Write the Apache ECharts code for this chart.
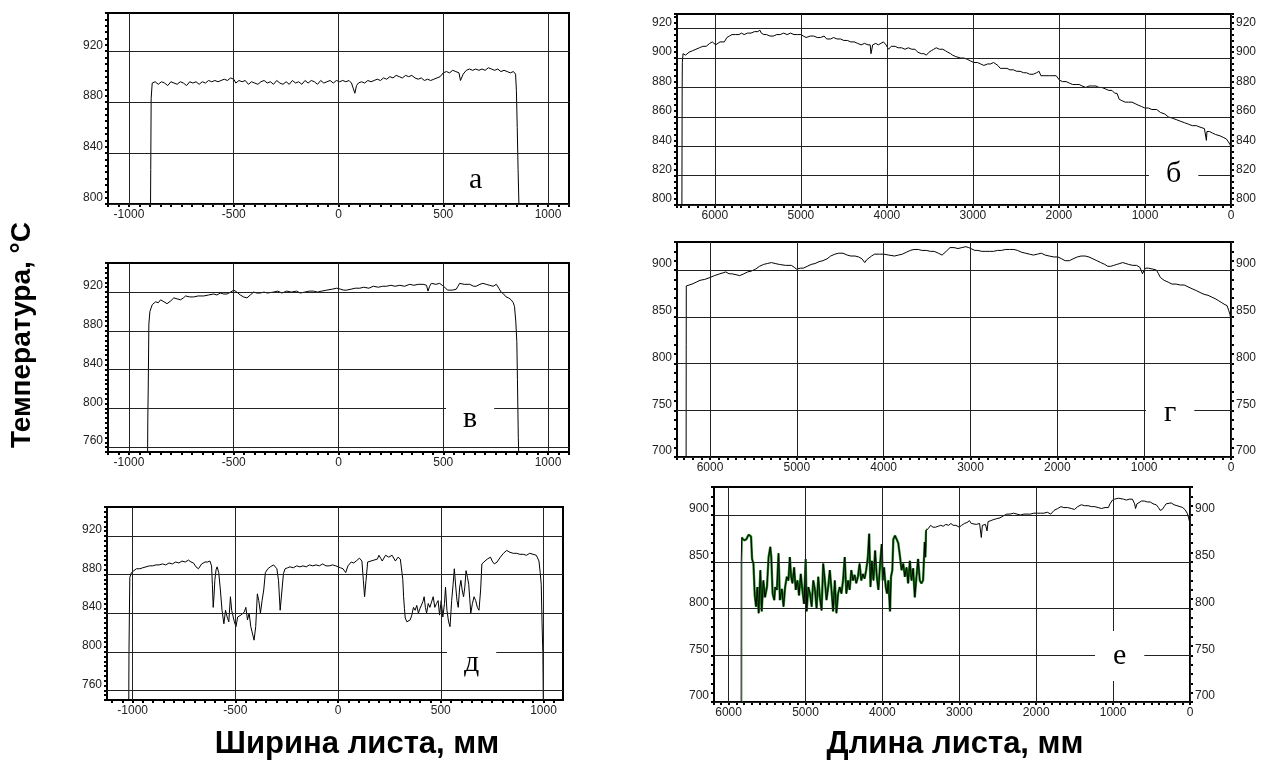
<!DOCTYPE html>
<html><head><meta charset="utf-8">
<script src="https://cdn.jsdelivr.net/npm/echarts@6/dist/echarts.min.js"></script>
<style>html,body{margin:0;padding:0;background:#fff}#c{width:1263px;height:762px}</style>
</head><body><div id="c"></div>
<script>
// ---------- data ----------
const widthTicks = [-1000, -500, 0, 500, 1000];
const lengthTicks = [6000, 5000, 4000, 3000, 2000, 1000, 0];
const tempTicksA = [800, 840, 880, 920];
const tempTicksB = [800, 820, 840, 860, 880, 900, 920];
const tempTicksV = [760, 800, 840, 880, 920];
const tempTicksG = [700, 750, 800, 850, 900];
const tempTicksD = [760, 800, 840, 880, 920];
const tempTicksE = [700, 750, 800, 850, 900];
const letters = ['а', 'б', 'в', 'г', 'д', 'е'];
const yTitle = 'Температура, °C';
const xTitleLeft = 'Ширина листа, мм';
const xTitleRight = 'Длина листа, мм';
const noisyRangeE = [3425, 5832];

const curveA = [[-897,800],[-896,827],[-894,883],[-889,895],[-875,896],[-860,894],[-845,896],[-830,895],[-815,893],[-800,896],[-785,895],[-770,894],[-755,896],[-740,895],[-725,893],[-710,896],[-695,895],[-680,896],[-665,894],[-650,896],[-635,895],[-620,897],[-605,896],[-590,897],[-575,896],[-560,897],[-545,898],[-530,897],[-515,899],[-500,898],[-490,895],[-475,897],[-460,896],[-445,897],[-430,894],[-415,896],[-400,895],[-385,894],[-370,896],[-355,897],[-340,895],[-325,896],[-310,894],[-295,897],[-280,895],[-265,894],[-250,896],[-235,894],[-220,897],[-205,895],[-190,896],[-175,894],[-160,897],[-145,895],[-130,897],[-115,896],[-100,894],[-85,897],[-70,895],[-55,896],[-40,897],[-25,895],[-10,897],[5,896],[20,897],[35,896],[50,897],[62,895],[70,891],[78,887],[86,893],[95,895],[110,896],[125,895],[140,897],[155,896],[170,897],[185,898],[200,897],[215,899],[230,898],[245,900],[260,899],[275,901],[290,900],[305,899],[320,901],[335,900],[350,901],[365,899],[380,898],[395,899],[410,897],[425,898],[440,897],[455,898],[470,899],[485,900],[500,903],[515,904],[530,903],[545,905],[560,904],[575,903],[582,897],[588,896],[595,902],[610,905],[625,906],[640,905],[655,906],[670,905],[685,906],[700,905],[715,907],[730,906],[745,905],[760,906],[775,904],[790,905],[805,904],[820,903],[835,904],[845,902],[849,889],[853,860],[857,827],[861,800]];

const curveB = [[6383,800],[6380,880],[6378,897],[6370,903],[6340,902],[6300,904],[6260,905],[6220,906],[6180,907],[6140,908],[6100,908],[6060,910],[6030,911],[6010,912],[5990,909],[5970,910],[5940,911],[5920,910],[5890,911],[5860,914],[5830,915],[5800,916],[5760,916],[5720,916],[5690,917],[5660,916],[5620,917],[5580,917],[5540,918],[5500,918],[5476,919],[5460,917],[5430,916],[5400,916],[5360,915],[5320,915],[5280,916],[5240,916],[5200,917],[5160,916],[5120,917],[5080,916],[5040,916],[5000,916],[4970,915],[4940,914],[4920,913],[4890,915],[4850,915],[4810,914],[4770,914],[4730,915],[4700,913],[4654,913],[4620,914],[4580,913],[4540,913],[4500,912],[4460,912],[4420,911],[4380,911],[4340,910],[4300,909],[4260,910],[4220,909],[4194,909],[4185,903],[4175,904],[4165,909],[4130,910],[4100,909],[4078,910],[4040,911],[4010,909],[3981,906],[3950,908],[3904,908],[3870,907],[3828,907],[3790,906],[3752,907],[3710,906],[3675,906],[3640,904],[3599,903],[3570,903],[3541,902],[3510,904],[3484,905],[3455,906],[3427,907],[3390,906],[3350,906],[3320,905],[3293,904],[3260,903],[3236,902],[3200,901],[3178,901],[3140,900],[3102,900],[3060,899],[3026,898],[2990,897],[2949,897],[2910,896],[2873,895],[2830,896],[2796,896],[2760,897],[2739,897],[2710,895],[2682,893],[2640,893],[2605,893],[2570,892],[2529,892],[2490,891],[2452,891],[2410,890],[2376,890],[2340,889],[2300,889],[2260,890],[2231,891],[2210,888],[2185,888],[2150,888],[2109,888],[2070,888],[2032,888],[2010,887],[1994,885],[1960,884],[1917,884],[1880,883],[1841,882],[1800,882],[1765,882],[1730,881],[1688,880],[1650,881],[1612,881],[1570,881],[1535,880],[1500,880],[1459,879],[1420,878],[1383,878],[1350,876],[1325,876],[1300,872],[1268,871],[1230,870],[1191,870],[1150,870],[1115,869],[1080,868],[1039,867],[1002,866],[960,866],[920,865],[864,865],[820,863],[771,862],[730,860],[679,859],[630,858],[587,857],[540,856],[494,855],[450,854],[402,854],[360,853],[309,852],[290,851],[286,844],[280,850],[250,850],[217,849],[180,848],[125,847],[90,846],[55,845],[30,843],[10,841],[0,838]];

const curveV = [[-911,755],[-910,790],[-908,820],[-905,887],[-900,900],[-889,907],[-873,910],[-860,909],[-849,912],[-833,910],[-818,908],[-800,911],[-786,914],[-770,913],[-754,912],[-740,914],[-730,916],[-710,915],[-691,915],[-670,916],[-643,916],[-620,917],[-596,918],[-580,917],[-564,919],[-548,918],[-532,918],[-515,920],[-500,922],[-485,920],[-469,917],[-453,915],[-437,914],[-421,917],[-405,920],[-390,919],[-374,919],[-355,920],[-340,919],[-310,920],[-290,921],[-270,919],[-247,921],[-225,920],[-200,921],[-183,919],[-160,920],[-140,921],[-120,921],[-100,920],[-80,921],[-56,922],[-30,923],[-9,924],[10,923],[25,922],[39,922],[60,923],[80,924],[102,924],[120,925],[145,924],[166,926],[190,925],[210,926],[229,926],[250,927],[270,926],[293,927],[315,926],[340,928],[360,927],[380,928],[404,928],[420,927],[427,921],[435,926],[443,929],[465,928],[483,929],[495,927],[507,925],[520,922],[530,922],[545,922],[562,923],[570,926],[578,929],[600,928],[626,928],[645,926],[657,926],[675,928],[689,929],[705,928],[721,927],[738,926],[753,928],[765,924],[776,920],[788,918],[800,915],[812,914],[824,912],[834,909],[840,905],[846,890],[851,869],[854,830],[856,800],[858,770],[860,755]];

const curveG = [[6275,700],[6274,820],[6273,883],[6240,884],[6206,885],[6160,887],[6115,889],[6060,890],[6000,892],[5950,894],[5886,896],[5850,897],[5818,898],[5780,896],[5749,896],[5700,895],[5658,894],[5610,896],[5566,898],[5520,899],[5475,901],[5430,904],[5383,906],[5340,907],[5292,908],[5250,907],[5201,906],[5130,905],[5063,905],[5030,903],[5004,901],[4960,902],[4926,902],[4880,904],[4835,906],[4790,907],[4744,909],[4700,910],[4652,912],[4610,915],[4561,917],[4520,918],[4469,918],[4420,916],[4378,915],[4330,915],[4287,914],[4250,912],[4218,908],[4195,911],[4172,913],[4140,915],[4104,917],[4050,917],[3999,917],[3940,916],[3875,915],[3830,916],[3784,917],[3740,919],[3693,921],[3650,922],[3601,922],[3560,921],[3510,921],[3460,920],[3418,920],[3370,918],[3327,916],[3280,920],[3236,924],[3190,924],[3144,923],[3100,924],[3053,925],[3020,924],[2998,922],[2950,921],[2916,921],[2870,920],[2824,920],[2780,920],[2733,920],[2690,921],[2641,921],[2600,922],[2550,922],[2500,922],[2459,921],[2410,919],[2367,918],[2320,917],[2276,916],[2230,917],[2184,918],[2140,916],[2093,915],[2040,914],[1993,914],[1950,912],[1910,910],[1860,910],[1819,912],[1770,914],[1727,915],[1680,915],[1636,914],[1590,912],[1545,910],[1500,908],[1453,906],[1420,904],[1385,904],[1350,905],[1316,906],[1280,907],[1248,908],[1210,907],[1179,906],[1130,905],[1088,905],[1050,903],[1030,901],[1019,896],[1005,899],[985,902],[951,902],[900,901],[859,900],[835,896],[813,892],[770,889],[722,887],[680,885],[631,885],[585,884],[539,884],[495,882],[448,880],[400,878],[356,876],[310,874],[265,873],[220,871],[174,869],[140,867],[105,865],[70,863],[46,862],[27,857],[10,852],[0,842]];

const curveD = [[-1019,750],[-1018,800],[-1014,877],[-1006,882],[-998,884],[-982,886],[-965,886],[-951,887],[-935,888],[-919,889],[-903,889],[-887,890],[-871,890],[-855,891],[-839,890],[-823,892],[-807,891],[-791,893],[-775,892],[-760,894],[-744,893],[-728,895],[-716,893],[-704,892],[-692,888],[-680,886],[-664,891],[-648,893],[-636,893],[-624,894],[-616,889],[-612,870],[-608,846],[-604,858],[-600,874],[-594,885],[-589,888],[-581,882],[-573,864],[-565,843],[-556,829],[-548,843],[-540,836],[-532,831],[-524,857],[-518,843],[-513,843],[-505,831],[-497,826],[-489,836],[-473,838],[-457,841],[-449,846],[-441,833],[-433,840],[-425,826],[-417,824],[-409,812],[-401,826],[-393,860],[-386,853],[-378,840],[-370,853],[-362,864],[-354,882],[-342,886],[-330,888],[-314,890],[-298,886],[-290,874],[-282,843],[-274,843],[-266,881],[-258,886],[-246,887],[-234,888],[-218,887],[-202,889],[-186,888],[-171,889],[-155,888],[-139,890],[-123,889],[-107,890],[-91,889],[-75,891],[-59,889],[-43,889],[-27,890],[-11,889],[0,888],[12,887],[24,886],[37,882],[48,889],[64,893],[76,892],[88,894],[104,897],[116,894],[123,874],[129,857],[136,874],[144,893],[160,894],[175,895],[191,896],[199,900],[207,897],[215,894],[231,900],[247,898],[263,900],[279,894],[292,898],[303,896],[311,896],[315,875],[319,857],[323,845],[327,835],[335,831],[343,830],[351,833],[359,838],[367,846],[375,843],[383,848],[391,840],[399,845],[407,846],[413,852],[419,857],[425,846],[431,840],[439,850],[447,846],[455,846],[463,857],[471,846],[479,850],[487,853],[494,838],[502,853],[510,836],[518,850],[523,867],[530,843],[538,831],[545,826],[553,853],[560,870],[566,886],[573,867],[579,853],[585,846],[592,867],[598,874],[604,864],[611,857],[617,867],[623,884],[630,877],[636,870],[641,855],[646,840],[654,850],[662,857],[670,853],[678,846],[686,843],[694,864],[700,891],[710,893],[718,891],[726,896],[734,894],[742,898],[750,894],[761,891],[774,893],[782,895],[790,898],[805,902],[821,905],[837,903],[853,902],[869,902],[885,901],[901,901],[917,900],[933,902],[949,901],[965,900],[978,894],[984,882],[989,870],[993,830],[997,798],[999,750]];

const curveE = [[5837,700],[5836,850],[5830,876],[5815,876],[5800,873],[5785,871],[5770,874],[5759,876],[5740,879],[5729,880],[5708,877],[5695,853],[5677,848],[5660,814],[5643,802],[5626,823],[5609,795],[5587,841],[5570,797],[5548,830],[5527,812],[5501,823],[5480,855],[5458,866],[5445,855],[5428,816],[5406,809],[5394,823],[5372,820],[5351,859],[5333,809],[5308,821],[5286,802],[5265,823],[5243,834],[5222,830],[5204,855],[5187,834],[5170,827],[5148,844],[5127,820],[5105,830],[5084,814],[5062,837],[5041,820],[5019,805],[4998,853],[4985,797],[4963,823],[4942,816],[4920,802],[4899,830],[4877,820],[4856,800],[4834,834],[4813,812],[4791,798],[4770,848],[4748,830],[4727,809],[4705,823],[4684,841],[4662,820],[4641,797],[4619,830],[4598,795],[4576,816],[4555,823],[4533,816],[4512,830],[4490,855],[4469,816],[4447,830],[4426,820],[4404,841],[4383,830],[4361,836],[4340,827],[4318,834],[4297,848],[4275,830],[4254,837],[4232,832],[4211,841],[4189,855],[4172,880],[4155,823],[4138,851],[4116,830],[4095,862],[4073,834],[4052,820],[4030,848],[4009,869],[3996,830],[3979,844],[3957,823],[3940,816],[3923,830],[3901,797],[3888,834],[3871,841],[3858,874],[3837,878],[3815,874],[3794,870],[3772,856],[3751,841],[3729,848],[3708,834],[3686,844],[3665,827],[3643,851],[3622,830],[3600,843],[3579,812],[3557,834],[3536,853],[3514,830],[3493,827],[3471,830],[3450,871],[3441,855],[3432,883],[3418,884],[3400,886],[3374,889],[3342,887],[3308,887],[3275,888],[3242,889],[3210,888],[3176,890],[3140,889],[3110,891],[3080,889],[3044,889],[3020,888],[3000,887],[2970,889],[2934,891],[2900,892],[2868,894],[2845,891],[2824,890],[2780,890],[2736,891],[2714,876],[2700,889],[2692,891],[2660,890],[2639,883],[2626,893],[2590,894],[2560,895],[2520,896],[2471,897],[2430,899],[2383,901],[2340,901],[2295,902],[2250,901],[2207,900],[2160,901],[2119,901],[2075,901],[2031,902],[1985,902],[1943,902],[1900,902],[1855,903],[1811,901],[1767,905],[1720,907],[1679,909],[1640,908],[1590,908],[1545,907],[1502,906],[1460,909],[1414,911],[1370,910],[1326,910],[1280,909],[1238,909],[1195,908],[1150,907],[1105,908],[1062,908],[1040,912],[1018,911],[1008,916],[980,917],[956,919],[930,918],[904,917],[865,917],[827,916],[790,917],[749,917],[720,912],[708,907],[690,912],[672,914],[630,915],[594,915],[555,914],[517,914],[480,912],[439,911],[410,908],[388,905],[360,906],[336,909],[310,912],[284,914],[245,913],[207,911],[170,910],[129,909],[95,908],[67,906],[50,904],[36,902],[18,897],[0,891]];

// ---------- layout / styles ----------
const FONT = '"Liberation Sans", Arial, sans-serif';
const LBL = '#222';
const minorD = [];
for (let v = -1100; v <= 1050; v += 50) minorD.push(v);

const panels = [
  {grid:{left:108,top:13,width:461,height:191}, x:{min:-1100,max:1100,step:50,major:widthTicks}, y:{min:800,max:950,step:5,major:tempTicksA}, right:false, data:curveA, letter:letters[0], c:[477,180], pad:[2,4,2,4]},
  {grid:{left:677,top:14,width:554,height:191}, x:{min:0,max:6440,step:100,major:lengthTicks,inverse:true}, y:{min:800,max:930,step:4,major:tempTicksB}, right:true, data:curveB, letter:letters[1], c:[1174,174], pad:[4,17,4,17]},
  {grid:{left:108,top:263,width:461,height:189}, x:{min:-1100,max:1100,step:50,major:widthTicks}, y:{min:755,max:950,step:5,major:tempTicksV}, right:false, data:curveV, letter:letters[2], c:[471,419], pad:[4,17,4,17]},
  {grid:{left:677,top:242,width:554,height:215}, x:{min:0,max:6380,step:100,major:lengthTicks,inverse:true}, y:{min:700,max:930,step:10,major:tempTicksG}, right:true, data:curveG, letter:letters[3], c:[1172,413], pad:[4,18,4,18]},
  {grid:{left:107,top:507,width:456,height:193}, x:{min:-1125,max:1095,custom:minorD,major:widthTicks}, y:{min:750,max:950,step:5,major:tempTicksD}, right:false, data:curveD, letter:letters[4], c:[472,663], pad:[4,17,4,17]},
  {grid:{left:714,top:487,width:476,height:215}, x:{min:0,max:6190,step:100,major:lengthTicks,inverse:true}, y:{min:700,max:930,step:10,major:tempTicksE}, right:true, data:curveE, letter:letters[5], c:[1121,656], pad:[9,18,9,18], green:noisyRangeE}
];

const grids = [], xAxes = [], yAxes = [], series = [], titles = [], visualMaps = [];
const axisLineS = {show:true, onZero:false, lineStyle:{color:'#000', width:2}};
const tickS = {show:true, inside:false, length:3, lineStyle:{color:'#000', width:2}};

panels.forEach((p, i) => {
  grids.push(Object.assign({show:true, borderColor:'#000', borderWidth:2, backgroundColor:'#fff', containLabel:false, outerBoundsMode:'none'}, p.grid));
  const xa = {gridIndex:i, type:'value', min:p.x.min, max:p.x.max, inverse:!!p.x.inverse,
    axisLine:axisLineS, splitLine:{show:false},
    axisLabel:{color:LBL, fontSize:12, fontFamily:FONT, margin:5,
      formatter:(v)=> p.x.major.indexOf(v) >= 0 ? String(v) : ''}};
  if (p.x.custom) {
    xa.axisTick = Object.assign({}, tickS, {customValues:p.x.custom});
    xa.axisLabel.customValues = p.x.major;
  } else {
    xa.interval = p.x.step;
    xa.axisTick = tickS;
  }
  xAxes.push(xa);
  const yIdx = yAxes.length;
  const ya = (pos) => ({gridIndex:i, type:'value', min:p.y.min, max:p.y.max, interval:p.y.step, position:pos,
    axisLine:axisLineS, axisTick:tickS, splitLine:{show:false},
    axisLabel:{color:LBL, fontSize:12, fontFamily:FONT, margin:5, verticalAlign:'bottom',
      formatter:(v)=> p.y.major.indexOf(v) >= 0 ? String(v) : ''}});
  yAxes.push(ya('left'));
  if (p.right) yAxes.push(ya('right'));
  const ml = p.x.major.map(v=>({xAxis:v})).concat(p.y.major.map(v=>({yAxis:v})));
  series.push({type:'line', xAxisIndex:i, yAxisIndex:yIdx, data:[], silent:true, z:1,
    markLine:{silent:true, symbol:['none','none'], label:{show:false}, animation:false,
      lineStyle:{color:'#222', width:1, type:'solid'}, emphasis:{disabled:true}, data:ml}});
  if (p.green) {
    visualMaps.push({type:'piecewise', show:false, dimension:0, seriesIndex:series.length,
      pieces:[{min:p.green[0], max:p.green[1], color:'#1d8a1d'}], outOfRange:{color:'rgba(255,255,255,0)'}});
    series.push({type:'line', xAxisIndex:i, yAxisIndex:yIdx, data:p.data, showSymbol:false, symbol:'none',
      silent:true, z:2, lineStyle:{width:2.4}, animation:false});
  }
  series.push({type:'line', xAxisIndex:i, yAxisIndex:yIdx, data:p.data, showSymbol:false, symbol:'none',
    silent:true, z:3, lineStyle:{color:'#000', width:1}, animation:false});
  const bw = 16 + p.pad[1] + p.pad[3];
  const bh = 32 + p.pad[0] + p.pad[2];
  titles.push({text:p.letter, left:p.c[0]-bw/2, top:p.c[1]-bh/2, padding:p.pad, backgroundColor:'#fff',
    textStyle:{fontFamily:'"Liberation Serif", "Times New Roman", serif', fontSize:30, fontWeight:'normal', color:'#000', lineHeight:32}});
});

const option = {
  animation:false,
  backgroundColor:'#fff',
  title:titles,
  grid:grids, xAxis:xAxes, yAxis:yAxes, series:series, visualMap:visualMaps,
  graphic:[
    {type:'text', x:22, y:335, rotation:Math.PI/2, style:{text:yTitle, font:'bold 28px "Liberation Sans", Arial, sans-serif', fill:'#000', textAlign:'center', textVerticalAlign:'middle'}},
    {type:'text', x:357, y:744, style:{text:xTitleLeft, font:'bold 31px "Liberation Sans", Arial, sans-serif', fill:'#000', textAlign:'center', textVerticalAlign:'middle'}},
    {type:'text', x:955, y:744, style:{text:xTitleRight, font:'bold 31px "Liberation Sans", Arial, sans-serif', fill:'#000', textAlign:'center', textVerticalAlign:'middle'}}
  ]
};
const chart = echarts.init(document.getElementById('c'));
chart.setOption(option);
</script>
</body></html>
